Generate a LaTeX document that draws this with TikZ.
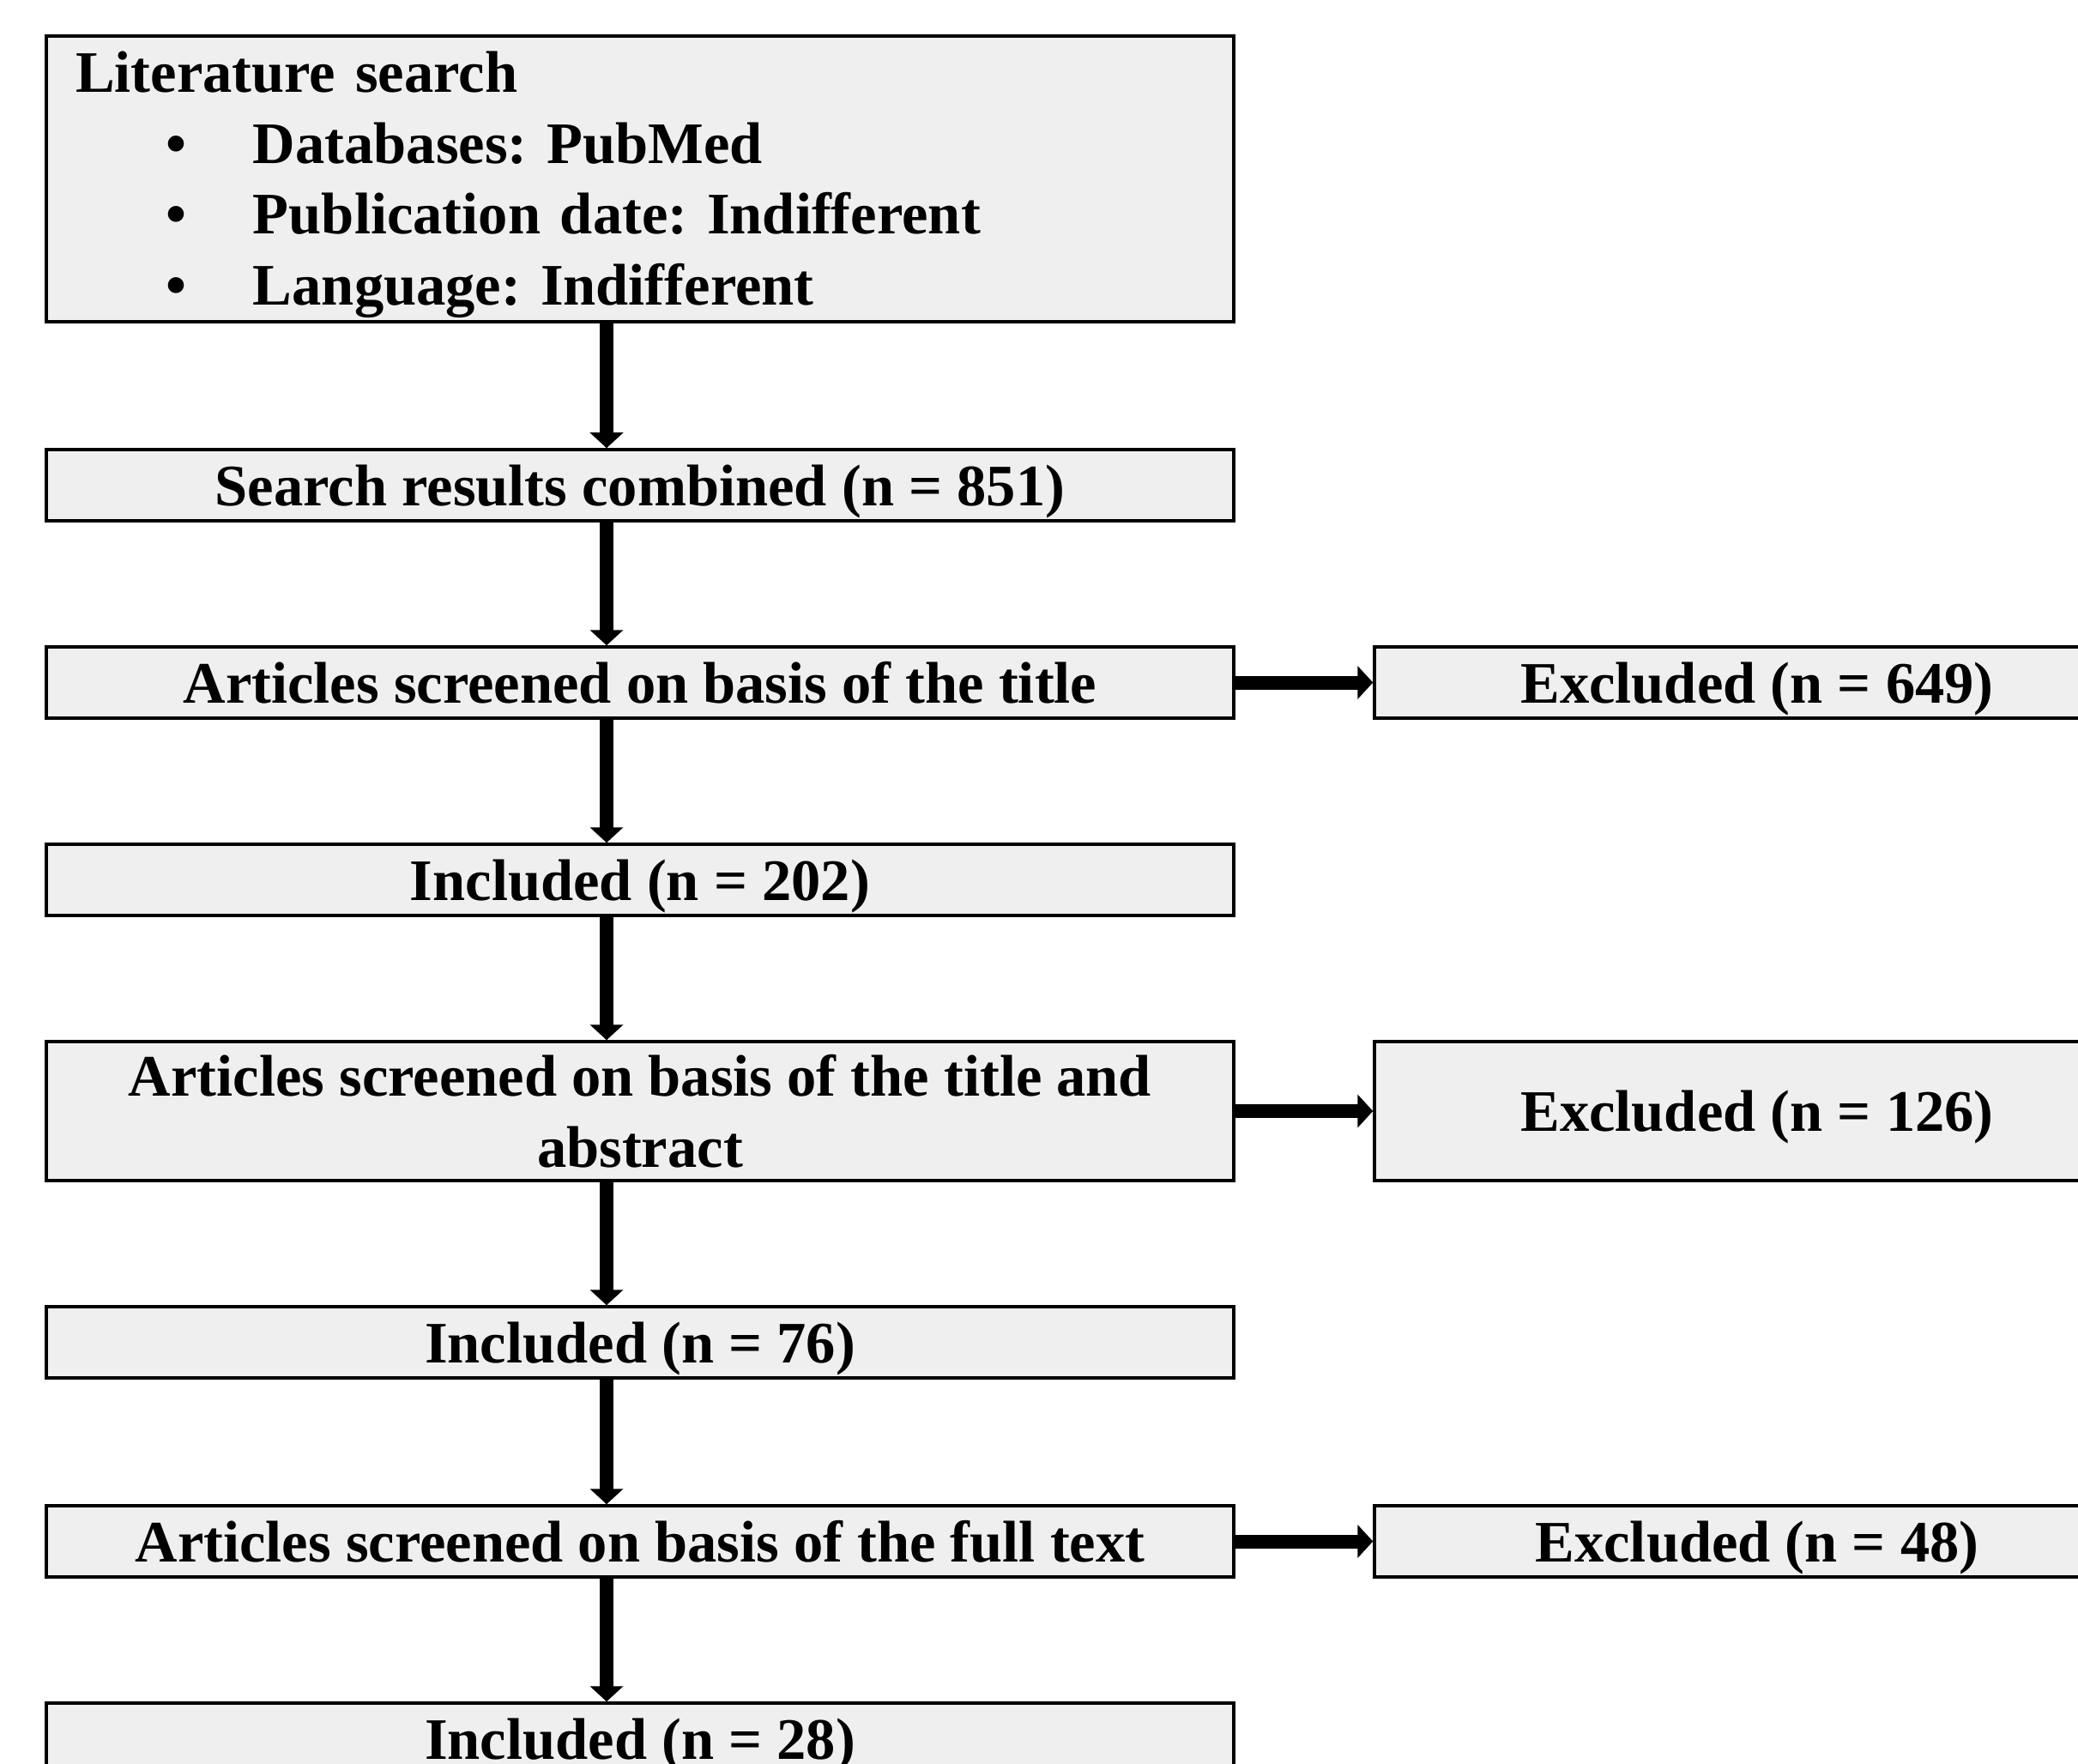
\documentclass[tikz,border=0pt]{standalone}
\usepackage{fontspec}
\setmainfont{Liberation Serif}
\usetikzlibrary{arrows.meta}
\frenchspacing

\definecolor{boxgray}{HTML}{EFEFEF}

\begin{document}
\begin{tikzpicture}[
    box/.style={draw, line width=1pt, fill=boxgray, inner sep=0pt, text depth=0pt,
        font=\bfseries\fontsize{19.5}{23.5}\selectfont, align=center,
        minimum width=13.84cm, minimum height=0.83cm},
    exbox/.style={box, minimum width=8.92cm},
    flow/.style={line width=1.6mm, -{Triangle[width=3.8mm,length=1.8mm]}}
    ]
            \useasboundingbox (0,0) rectangle (24.22,-20.55);
            % left column
            \node[box, minimum height=3.33cm, text width=13.16cm, text depth=71pt, inner xsep=0.34cm, align=left] (lit) at (7.46,-2.085)
                {Literature search\\
                 \hspace*{1.05cm}\makebox[1.02cm][l]{\textbullet}Databases: PubMed\\
                 \hspace*{1.05cm}\makebox[1.02cm][l]{\textbullet}Publication date: Indifferent\\
                 \hspace*{1.05cm}\makebox[1.02cm][l]{\textbullet}Language: Indifferent};
            \node[box] (comb) at (7.46,-5.655) {Search results combined (n = 851)};
            \node[box] (title) at (7.46,-7.955) {Articles screened on basis of the title};
            \node[box] (incA) at (7.46,-10.255) {Included (n = 202)};
            \node[box, minimum height=1.62cm] (abst) at (7.46,-12.95) {Articles screened on basis of the title and\\abstract};
            \node[box] (incB) at (7.46,-15.645) {Included (n = 76)};
            \node[box] (full) at (7.46,-17.965) {Articles screened on basis of the full text};
            \node[box] (incC) at (7.46,-20.265) {Included (n = 28)};
            % right column
            \node[exbox] (exA) at (20.48,-7.955) {Excluded (n = 649)};
            \node[exbox, minimum height=1.62cm] (exB) at (20.48,-12.95) {Excluded (n = 126)};
            \node[exbox] (exC) at (20.48,-17.965) {Excluded (n = 48)};
            % arrows
            \foreach \a/\b in {lit/comb,comb/title,title/incA,incA/abst,abst/incB,incB/full,full/incC}
                \draw[flow] ([xshift=-3.9mm]\a.south) -- ([xshift=-3.9mm]\b.north);
            \foreach \a/\b in {title/exA,abst/exB,full/exC}
                \draw[flow] (\a.east) -- (\b.west);
        \end{tikzpicture}
\end{document}
